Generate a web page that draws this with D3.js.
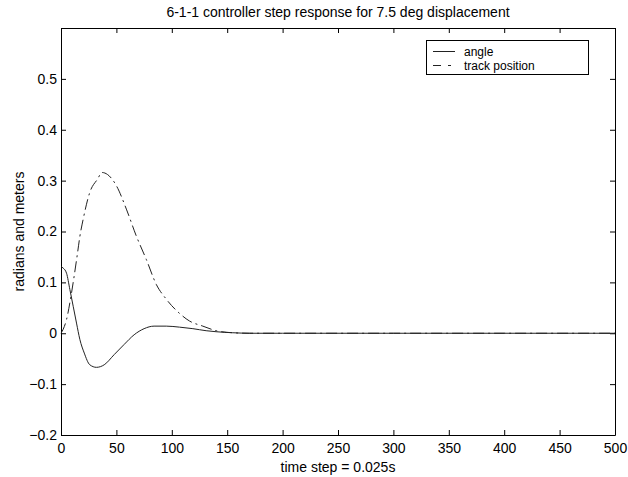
<!DOCTYPE html>
<html>
<head>
<meta charset="utf-8">
<script src="https://cdn.jsdelivr.net/npm/d3@7"></script>
<style>
  body { margin: 0; background: #fff; }
  svg text { font-family: "Liberation Sans", Arial, sans-serif; font-size: 14px; fill: #000; }
</style>
</head>
<body>
<div id="chart"></div>
<script>
// data
const angleSteps = [0, 2, 5, 8, 11, 14, 17, 21, 26, 32, 39, 48, 57, 66, 75, 84, 95, 107, 119, 131, 140, 155, 170, 200, 300, 400, 500];
const angleValues = [0.131, 0.128, 0.118, 0.086, 0.053, 0.020, -0.012, -0.039, -0.062, -0.067, -0.062, -0.042, -0.022, -0.003, 0.009, 0.014, 0.014, 0.012, 0.009, 0.005, 0.003, 0.001, 0.0, 0, 0, 0, 0];

const trackSteps = [0, 2, 5, 8, 11, 15, 17, 20, 26, 33, 37, 42, 50, 59, 68, 77, 86, 95, 107, 116, 128, 140, 155, 170, 200, 300, 400, 500];
const trackValues = [0, 0.008, 0.027, 0.060, 0.100, 0.159, 0.190, 0.224, 0.277, 0.303, 0.316, 0.312, 0.290, 0.244, 0.191, 0.145, 0.096, 0.067, 0.039, 0.024, 0.014, 0.005, 0.001, 0, 0, 0, 0, 0];

const xTicks = [0, 50, 100, 150, 200, 250, 300, 350, 400, 450, 500];
const yTicks = [-0.2, -0.1, 0, 0.1, 0.2, 0.3, 0.4, 0.5];
const legendLabels = ["angle", "track position"];

const titleText = "6-1-1 controller step response for 7.5 deg displacement";
const xLabel = "time step = 0.025s";
const yLabel = "radians and meters";

const totalW = 628, totalH = 477;
const margin = { top: 28, right: 13, bottom: 42, left: 61 };
const width = totalW - margin.left - margin.right;
const height = totalH - margin.top - margin.bottom;

const svg = d3.select("#chart").append("svg")
    .attr("width", totalW)
    .attr("height", totalH);

const g = svg.append("g")
    .attr("transform", `translate(${margin.left},${margin.top})`);

const x = d3.scaleLinear().domain([0, 500]).range([0, width]);
const y = d3.scaleLinear().domain([-0.2, 0.6]).range([height, 0]);

// axes, ticks pointing inward like matlab
const tickFmt = d => d3.format("")(+d.toFixed(1));
g.append("g")
    .attr("transform", `translate(0,${height})`)
    .call(d3.axisBottom(x).tickValues(xTicks).tickSizeInner(-5).tickSizeOuter(0).tickPadding(8).tickFormat(d3.format("d")));
g.append("g")
    .call(d3.axisTop(x).tickValues(xTicks).tickSizeInner(-5).tickSizeOuter(0).tickFormat(""));
g.append("g")
    .call(d3.axisLeft(y).tickValues(yTicks).tickSizeInner(-5).tickSizeOuter(0).tickPadding(4).tickFormat(tickFmt));
g.append("g")
    .attr("transform", `translate(${width},0)`)
    .call(d3.axisRight(y).tickValues(yTicks).tickSizeInner(-5).tickSizeOuter(0).tickFormat(""));

g.selectAll(".domain").attr("stroke", "#000");
g.selectAll(".tick line").attr("stroke", "#000");
g.selectAll(".tick text").style("font-size", "14px").attr("fill", "#000");

// curves
const line = d3.line().curve(d3.curveMonotoneX);

g.append("path")
    .attr("fill", "none")
    .attr("stroke", "#222")
    .attr("stroke-width", 1)
    .attr("d", line(angleSteps.map((s, i) => [x(s), y(angleValues[i])])));

g.append("path")
    .attr("fill", "none")
    .attr("stroke", "#222")
    .attr("stroke-width", 1)
    .attr("stroke-dasharray", "11,4,2,4")
    .attr("d", line(trackSteps.map((s, i) => [x(s), y(trackValues[i])])));

// legend
const leg = svg.append("g");
leg.append("rect")
    .attr("x", 426.5).attr("y", 40.5)
    .attr("width", 162).attr("height", 34)
    .attr("fill", "#fff").attr("stroke", "#000");
legendLabels.forEach((lab, i) => {
    const ly = 51.5 + i * 14;
    leg.append("line")
        .attr("x1", 433).attr("x2", 455)
        .attr("y1", ly).attr("y2", ly)
        .attr("stroke", "#222")
        .attr("stroke-dasharray", i === 1 ? "8,7,3,7" : null);
    leg.append("text")
        .attr("x", 464).attr("y", ly + 4)
        .style("font-size", "12px")
        .text(lab);
});

// titles
svg.append("text")
    .attr("x", margin.left + width / 2)
    .attr("y", 17)
    .attr("text-anchor", "middle")
    .text(titleText);

svg.append("text")
    .attr("x", margin.left + width / 2)
    .attr("y", 472)
    .attr("text-anchor", "middle")
    .text(xLabel);

svg.append("text")
    .attr("transform", "rotate(-90)")
    .attr("x", -(margin.top + height / 2))
    .attr("y", 24)
    .attr("text-anchor", "middle")
    .text(yLabel);
</script>
</body>
</html>
